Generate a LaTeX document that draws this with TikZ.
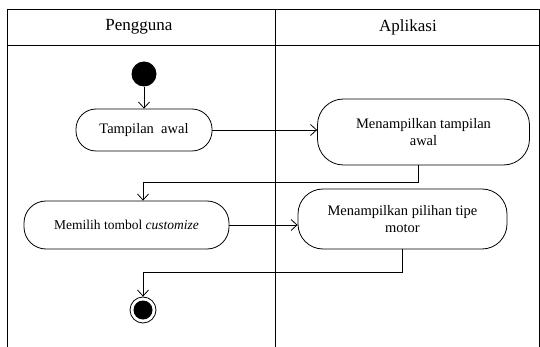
\documentclass[tikz,border=0pt]{standalone}
\usepackage{fontspec}
\setmainfont{Liberation Serif}
\usetikzlibrary{arrows.meta,calc}
\begin{document}
\begin{tikzpicture}[x=1pt,y=-1pt,
  line width=0.8pt,
  act/.style={draw, rounded corners=20pt, align=center, inner sep=0pt, font=\fontsize{14.5}{17}\selectfont},
  hdr/.style={font=\fontsize{17}{20}\selectfont},
  arr/.style={-{Straight Barb[length=6pt,width=11pt,line width=0.8pt]}}]
\useasboundingbox (0,0) rectangle (540,347);
\begin{scope}
\clip (0,0) rectangle (540,347);
\draw (7,9) rectangle (539,360);
\draw (7,45) -- (539,45);
\draw (275,9) -- (275,360);
\end{scope}
\node[hdr] (h1) at (139,27) {Pengguna};
\node[hdr] (h2) at (408,27) {Aplikasi};
\node[circle, fill=black, minimum size=25pt, inner sep=0pt] (start) at (144,74) {};
\node[act, minimum width=136pt, minimum height=42pt] (ta) at (144,130) {Tampilan\ \ awal};
\node[act, minimum width=212pt, minimum height=66pt, rounded corners=26pt] (mta) at (423.5,132) {Menampilkan tampilan\\awal};
\node[act, minimum width=205pt, minimum height=48pt, rounded corners=22pt] (mt) at (126.5,225) {\fontsize{13.5}{16}\selectfont Memilih tombol \textit{customize}};
\node[act, minimum width=209pt, minimum height=60pt, rounded corners=25pt] (mp) at (402.5,219) {Menampilkan pilihan tipe\\motor};
\node[circle, draw, minimum size=26pt, inner sep=0pt] (end) at (143,310) {};
\fill (end.center) circle (9.5pt);
\coordinate (c1) at (418,182);
\coordinate (c2) at (143,182);
\coordinate (c3) at (143,272);
\draw[arr] (start) -- (ta);
\draw[arr] (ta.east) -- (ta.east -| mta.west);
\draw[arr] (mta.south -| c1) -- (c1) -- (c2) -- (c2 |- mt.north);
\draw[arr] (mt.east) -- (mt.east -| mp.west);
\draw[arr] (mp.south) -- (mp.south |- c3) -- (c3) -- (end.north);
\end{tikzpicture}
\end{document}
